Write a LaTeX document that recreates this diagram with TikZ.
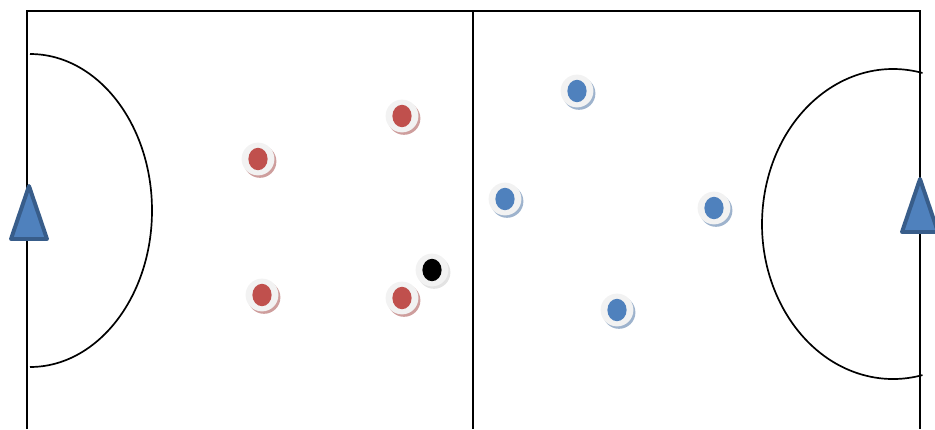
\documentclass[tikz,border=0pt]{standalone}
\usetikzlibrary{shapes.geometric,shadows}
\definecolor{redteam}{HTML}{C0504D}
\definecolor{blueteam}{HTML}{4F81BD}
\definecolor{goalline}{HTML}{385D8A}
\definecolor{ringgrey}{HTML}{F2F2F2}
\begin{document}
\begin{tikzpicture}[x=0.025cm, y=-0.025cm,
        ring/.style={circle, fill=ringgrey, minimum size=0.82cm, inner sep=0pt,
            drop shadow={shadow xshift=0.05cm, shadow yshift=-0.06cm, fill=#1!70!gray, opacity=0.6}},
        dot/.style={ellipse, fill=#1, minimum width=0.48cm, minimum height=0.56cm, inner sep=0pt},
        field/.style={line width=1.3pt},
        area/.style={line width=1.2pt},
        goal/.style={fill=blueteam, draw=goalline, line width=2.8pt, line join=round}
    ]
        \useasboundingbox (0,0) rectangle (935,429);

        % Field
        \draw[field] (27,429) -- (27,11) -- (920,11) -- (920,429);
        \draw[field] (473,11) -- (473,429);

        % Areas
        \draw[area] (30,54) arc[start angle=-90, end angle=90, x radius=122, y radius=156.5];
        \draw[area] (922.5,73) arc[start angle=-77, end angle=-283, x radius=131, y radius=155];

        % Goals
        \draw[goal] (29,186) -- (47,239) -- (11,239) -- cycle;
        \draw[goal] (920,179) -- (938,232) -- (902,232) -- cycle;

        % Red team
        \node (r1) [ring=redteam] at (258,159) {};
        \node (r2) [ring=redteam] at (402,116) {};
        \node (r3) [ring=redteam] at (262,295) {};
        \node (r4) [ring=redteam] at (402,298) {};
        \foreach \p in {r1,r2,r3,r4}
            \node [dot=redteam] at (\p) {};

        % Ball
        \node (ball) [ring=ringgrey] at (432,270) {};
        \node [dot=black] at (ball) {};

        % Blue team
        \node (b1) [ring=blueteam] at (577,91) {};
        \node (b2) [ring=blueteam] at (505,199) {};
        \node (b3) [ring=blueteam] at (714,208) {};
        \node (b4) [ring=blueteam] at (617,310) {};
        \foreach \p in {b1,b2,b3,b4}
            \node [dot=blueteam] at (\p) {};

    \end{tikzpicture}
\end{document}
